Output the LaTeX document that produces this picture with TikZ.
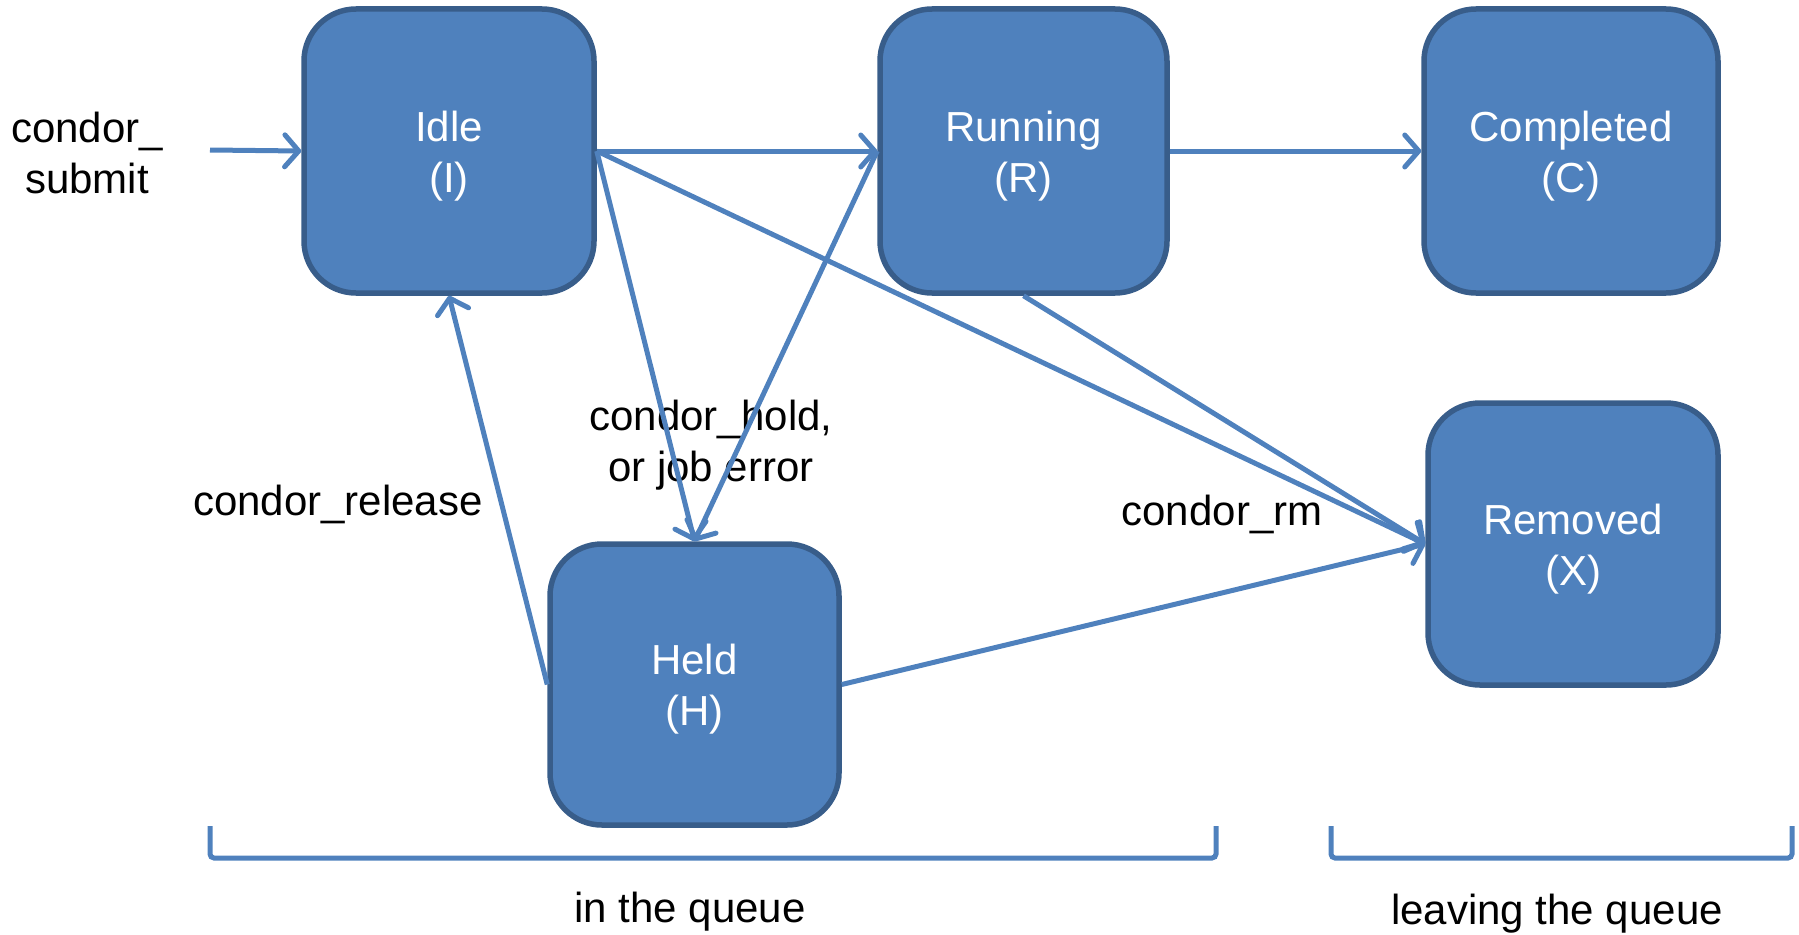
\documentclass[tikz,border=0pt]{standalone}
\usepackage{fontspec}
\setmainfont{Liberation Sans}
\usetikzlibrary{arrows.meta}
\definecolor{boxfill}{HTML}{4F81BD}
\definecolor{boxline}{HTML}{385D8A}
\definecolor{linkcol}{HTML}{4F81BD}
\begin{document}
\begin{tikzpicture}[x=1bp,y=-1bp,
  state/.style={draw=boxline, line width=5.5bp, fill=boxfill, rounded corners=52bp,
    minimum width=290bp, minimum height=284bp, inner sep=0pt},
  statetext/.style={text=white, align=center, inner sep=0pt, yshift=-5bp,
    font=\fontsize{42bp}{51bp}\selectfont},
  lab/.style={text=black, align=center, inner sep=0pt, font=\fontsize{42bp}{51bp}\selectfont},
  link/.style={draw=linkcol, line width=5bp, -{Straight Barb[round,length=14bp,width=32bp]}},
  bracket/.style={draw=linkcol, line width=5bp, rounded corners=4bp}]
\useasboundingbox (0,0) rectangle (1799,934);
\node[state, label={[statetext]center:Idle\\(I)}] (idle) at (449,151) {};
\node[state, minimum width=287bp, label={[statetext]center:Running\\(R)}] (run) at (1023.5,151) {};
\node[state, minimum width=294bp, label={[statetext]center:Completed\\(C)}] (comp) at (1571,151) {};
\node[state, minimum height=282bp, label={[statetext]center:Removed\\(X)}] (rem) at (1573,544) {};
\node[state, minimum width=289bp, minimum height=281bp, label={[statetext]center:Held\\(H)}] (held) at (694.5,684.5) {};

\node[lab] (submit) at (87,153) {condor\_\\submit};
\node[lab] (hold) at (711,445) {condor\_hold,\\or job error};
\node[lab] (release) at (338,504) {condor\_release};
\node[lab] (rm) at (1222,514) {condor\_rm};
\node[lab] (inq) at (690,912) {in the queue};
\node[lab] (leaveq) at (1557,914) {leaving the queue};

\coordinate (subst) at (210,150);
\draw[link] (subst) -- (idle.west);
\draw[link] (idle.east) -- (run.west);
\draw[link] (run.east) -- (comp.west);
\draw[link] (idle.east) -- (held.north);
\draw[link] (run.west) -- (held.north);
\draw[link] (idle.east) -- (rem.west);
\draw[link] (run.south) -- (rem.west);
\draw[link] (held.east) -- (rem.west);
\draw[link] (held.west) -- (idle.south);

\coordinate (b1a) at (210,826);
\coordinate (b1b) at (210,858);
\coordinate (b1c) at (1216,858);
\coordinate (b1d) at (1216,826);
\draw[bracket] (b1a) -- (b1b) -- (b1c) -- (b1d);
\coordinate (b2a) at (1331,826);
\coordinate (b2b) at (1331,858);
\coordinate (b2c) at (1792,858);
\coordinate (b2d) at (1792,826);
\draw[bracket] (b2a) -- (b2b) -- (b2c) -- (b2d);
\end{tikzpicture}
\end{document}
